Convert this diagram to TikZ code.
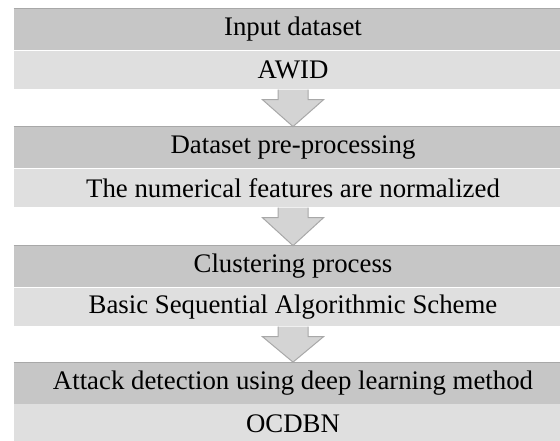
\documentclass[tikz,border=0pt]{standalone}
\usepackage{fontspec}
\setmainfont{Liberation Serif}
\usetikzlibrary{positioning,calc}
\definecolor{headgray}{HTML}{C6C6C6}
\definecolor{subgray}{HTML}{DFDFDF}
\definecolor{arrowgray}{HTML}{D4D4D4}
\definecolor{edgegray}{HTML}{A8A8A8}
\tikzstyle{head} = [fill=headgray, minimum width=279pt, minimum height=20.5pt, inner sep=0pt, font=\fontsize{13.4}{16}\selectfont]
\tikzstyle{sub} = [fill=subgray, minimum width=279pt, minimum height=19.25pt, inner sep=0pt, font=\fontsize{13.4}{16}\selectfont]
\tikzstyle{topline} = [draw=edgegray, line width=.6pt]
\tikzstyle{downarrow} = [fill=arrowgray, draw=edgegray, line width=.5pt, line join=miter]
% block arrow from the bottom of one block to the top of the next
\newcommand{\flowarrow}[2]{%
  \filldraw[downarrow] ($(#1.south)+(-15,0)$) -- ++(0,10) -- ++(-15.5,0) -- (#2.north)
    -- ($(#1.south)+(30.5,10)$) -- ++(-15.5,0) -- ($(#1.south)+(15,0)$);}

\begin{document}
\begin{tikzpicture}[x=0.5pt, y=-0.5pt]
    \useasboundingbox (0,0) rectangle (560,440);
    \clip (0,0) rectangle (560,440);
    \draw (293,29.5) node[head] (input) {Input dataset};
    \node[sub, below=0pt of input] (awid) {AWID};
    \draw (293,147.5) node[head] (prep) {Dataset pre-processing};
    \node[sub, below=0pt of prep] (norm) {The numerical features are normalized};
    \draw (293,266.5) node[head] (clust) {Clustering process};
    \node[sub, below=0pt of clust] (bsas) {Basic Sequential Algorithmic Scheme};
    \draw (293,383) node[head] (detect) {Attack detection using deep learning method};
    \node[sub, below=0pt of detect] (ocdbn) {OCDBN};
    \draw[topline] (input.north west) -- (input.north east);
    \draw[topline] (prep.north west) -- (prep.north east);
    \draw[topline] (clust.north west) -- (clust.north east);
    \draw[topline] (detect.north west) -- (detect.north east);
    \flowarrow{awid}{prep}
    \flowarrow{norm}{clust}
    \flowarrow{bsas}{detect}
\end{tikzpicture}
\end{document}
